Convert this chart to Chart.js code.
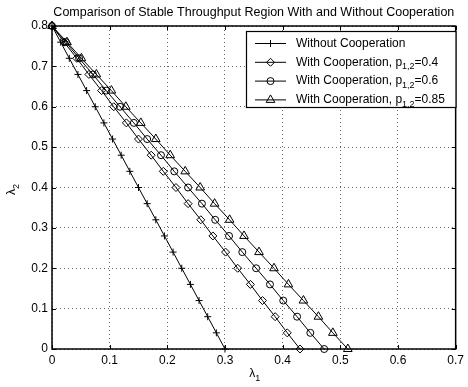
<!DOCTYPE html>
<html><head><meta charset="utf-8">
<script src="https://cdn.jsdelivr.net/npm/chart.js@4/dist/chart.umd.min.js"></script>
<style>html,body{margin:0;padding:0;background:#fff;}#wrap{width:468px;height:387px;}</style>
</head><body><div id="wrap"><canvas id="c" width="468" height="387"></canvas></div>
<script>
const chartTitle = 'Comparison of Stable Throughput Region With and Without Cooperation';
const xAxisLabel = 'λ_{1}';
const yAxisLabel = 'λ_{2}';
const xTicks = [0, 0.1, 0.2, 0.3, 0.4, 0.5, 0.6, 0.7];
const yTicks = [0, 0.1, 0.2, 0.3, 0.4, 0.5, 0.6, 0.7, 0.8];

const lambda2 = [0.8, 0.76, 0.72, 0.68, 0.64, 0.6, 0.56, 0.52, 0.48, 0.44, 0.4,
                 0.36, 0.32, 0.28, 0.24, 0.2, 0.16, 0.12, 0.08, 0.04, 0];
const lambda1WithoutCoop = [0, 0.015, 0.03, 0.045, 0.06, 0.075, 0.09, 0.105, 0.12, 0.135, 0.15,
                            0.165, 0.18, 0.195, 0.21, 0.225, 0.24, 0.255, 0.27, 0.285, 0.3];
const lambda1CoopP04 = [0, 0.021, 0.043, 0.064, 0.086, 0.107, 0.129, 0.150, 0.172, 0.193, 0.215,
                        0.236, 0.258, 0.279, 0.301, 0.322, 0.344, 0.365, 0.387, 0.408, 0.43];
const lambda1CoopP06 = [0, 0.024, 0.047, 0.071, 0.094, 0.118, 0.142, 0.165, 0.189, 0.212, 0.236,
                        0.26, 0.283, 0.307, 0.33, 0.354, 0.378, 0.401, 0.425, 0.448, 0.472];
const lambda1CoopP085 = [0, 0.026, 0.051, 0.077, 0.103, 0.128, 0.154, 0.18, 0.205, 0.231, 0.257,
                         0.282, 0.308, 0.333, 0.359, 0.385, 0.41, 0.436, 0.462, 0.487, 0.513];
const seriesNames = ['Without Cooperation',
                     'With Cooperation, p_{1,2}=0.4',
                     'With Cooperation, p_{1,2}=0.6',
                     'With Cooperation, p_{1,2}=0.85'];
const seriesX = [lambda1WithoutCoop, lambda1CoopP04, lambda1CoopP06, lambda1CoopP085];

const markerStyles = ['cross', 'rectRot', 'circle', 'triangle'];
const markerRadii = [3.5, 4, 3.5, 5];
const FONT = "'Liberation Sans', Arial, Helvetica, sans-serif";

const datasets = seriesNames.map((name, i) => ({
  label: name,
  data: seriesX[i].map((x, k) => ({x: x, y: lambda2[k]})),
  showLine: true,
  borderColor: '#000',
  borderWidth: 1,
  tension: 0,
  pointStyle: markerStyles[i],
  pointRadius: markerRadii[i],
  pointHoverRadius: markerRadii[i],
  pointBorderColor: '#000',
  pointBackgroundColor: 'rgba(0,0,0,0)',
  pointBorderWidth: 1,
  clip: false
}));

function richParts(text) {
  const parts = [];
  const re = /_\{([^}]*)\}/g;
  let last = 0, m;
  while ((m = re.exec(text)) !== null) {
    if (m.index > last) parts.push({t: text.slice(last, m.index), sub: false});
    parts.push({t: m[1], sub: true});
    last = re.lastIndex;
  }
  if (last < text.length) parts.push({t: text.slice(last), sub: false});
  return parts;
}
function richWidth(ctx, text, size) {
  let w = 0;
  for (const p of richParts(text)) {
    ctx.font = (p.sub ? size * 0.75 : size) + 'px ' + FONT;
    w += ctx.measureText(p.t).width;
  }
  return w;
}
function drawRich(ctx, text, x, y, size) {
  let cx = x;
  for (const p of richParts(text)) {
    ctx.font = (p.sub ? size * 0.75 : size) + 'px ' + FONT;
    ctx.fillText(p.t, cx, p.sub ? y + 4.5 : y);
    cx += ctx.measureText(p.t).width;
  }
}

const matlabPlugin = {
  id: 'matlabPlugin',
  afterDraw(chart) {
    const ctx = chart.ctx;
    const a = chart.chartArea;
    const xs = chart.scales.x, ys = chart.scales.y;
    ctx.save();
    ctx.strokeStyle = '#000';
    ctx.lineWidth = 1;
    ctx.beginPath();
    xTicks.forEach(v => {
      const px = Math.round(xs.getPixelForValue(v)) + 0.5;
      ctx.moveTo(px, a.bottom); ctx.lineTo(px, a.bottom - 4);
      ctx.moveTo(px, a.top); ctx.lineTo(px, a.top + 4);
    });
    yTicks.forEach(v => {
      const py = Math.round(ys.getPixelForValue(v)) + 0.5;
      ctx.moveTo(a.left, py); ctx.lineTo(a.left + 4, py);
      ctx.moveTo(a.right, py); ctx.lineTo(a.right - 4, py);
    });
    ctx.stroke();
    ctx.lineWidth = 1.5;
    ctx.strokeRect(a.left, a.top, a.right - a.left, a.bottom - a.top);

    // axis labels
    ctx.fillStyle = '#000';
    ctx.textBaseline = 'middle';
    ctx.textAlign = 'left';
    const cxm = (a.left + a.right) / 2;
    const wx = richWidth(ctx, xAxisLabel, 12);
    drawRich(ctx, xAxisLabel, cxm - wx / 2 + 1, 374, 12);
    const cym = (a.top + a.bottom) / 2 + 2;
    const wy = richWidth(ctx, yAxisLabel, 12);
    ctx.save();
    ctx.translate(12, cym);
    ctx.rotate(-Math.PI / 2);
    drawRich(ctx, yAxisLabel, -wy / 2, 0, 12);
    ctx.restore();

    // legend
    const L = {x1: 246.5, y1: 31.5, x2: 456, y2: 107.5};
    ctx.fillStyle = '#fff';
    ctx.fillRect(L.x1, L.y1, L.x2 - L.x1, L.y2 - L.y1);
    ctx.lineWidth = 1.2;
    ctx.strokeStyle = '#000';
    ctx.strokeRect(L.x1, L.y1, L.x2 - L.x1, L.y2 - L.y1);
    const rowY = [43.5, 62.3, 81.1, 99.9];
    seriesNames.forEach((name, i) => {
      const y = rowY[i];
      ctx.lineWidth = 1;
      ctx.strokeStyle = '#000';
      ctx.beginPath();
      ctx.moveTo(255, y); ctx.lineTo(286, y);
      ctx.stroke();
      ctx.fillStyle = 'rgba(0,0,0,0)';
      Chart.helpers.drawPoint(ctx, {pointStyle: markerStyles[i], radius: markerRadii[i], borderWidth: 1, rotation: 0}, 270.5, y);
      ctx.fillStyle = '#000';
      ctx.textBaseline = 'middle';
      ctx.textAlign = 'left';
      drawRich(ctx, name, 296, y, 12);
    });
    ctx.restore();
  }
};

new Chart(document.getElementById('c'), {
  type: 'scatter',
  data: {datasets},
  options: {
    responsive: false,
    animation: false,
    devicePixelRatio: 1,
    layout: {padding: {left: 0, right: 6.5, top: 0, bottom: 0}},
    plugins: {
      legend: {display: false},
      tooltip: {enabled: false},
      title: {
        display: true, text: chartTitle, fullSize: false, color: '#000',
        font: {family: FONT, size: 12.5, weight: 'normal', lineHeight: 1.2},
        padding: {top: 5, bottom: 6}
      }
    },
    scales: {
      x: {
        type: 'linear', min: 0, max: 0.7,
        afterBuildTicks: s => { s.ticks = xTicks.map(v => ({value: v})); },
        afterFit: s => { s.height = 38; },
        ticks: {color: '#000', padding: 4, font: {family: FONT, size: 12}, callback: v => String(v)},
        grid: {color: '#666', lineWidth: 1, drawTicks: false},
        border: {display: false, dash: [1, 3]}
      },
      y: {
        type: 'linear', min: 0, max: 0.8,
        afterBuildTicks: s => { s.ticks = yTicks.map(v => ({value: v})); },
        afterFit: s => { s.width = 52; },
        ticks: {color: '#000', padding: 4, font: {family: FONT, size: 12}, callback: v => String(v)},
        grid: {color: '#666', lineWidth: 1, drawTicks: false},
        border: {display: false, dash: [1, 3]}
      }
    }
  },
  plugins: [matlabPlugin]
});
</script>
</body></html>
